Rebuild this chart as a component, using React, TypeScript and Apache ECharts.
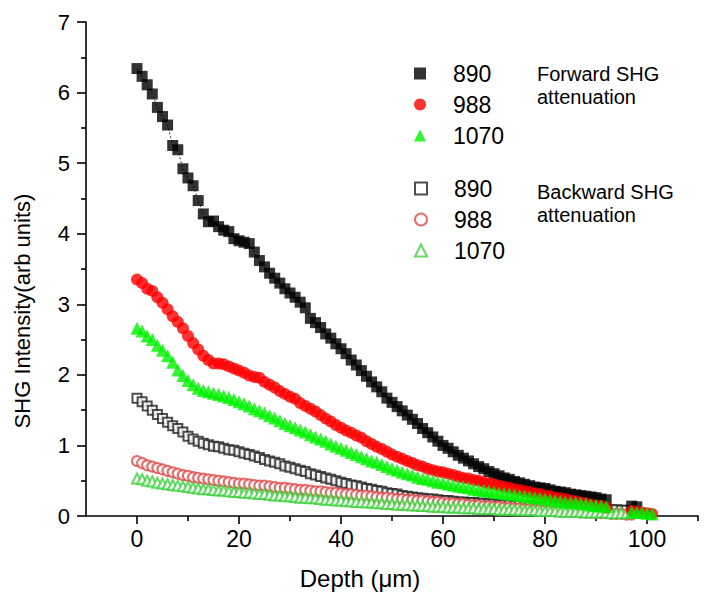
import React, { useEffect, useRef } from "react";
import * as echarts from "echarts";

// Depth axis (µm) and SHG intensity values (arb units).
// Main series are sampled every 1 µm starting at depth 0; tails are extra [depth, value] points.
const forward890 = [
  6.34, 6.23, 6.11, 5.98, 5.79, 5.66, 5.54, 5.25, 5.19, 4.92,
  4.79, 4.68, 4.47, 4.28, 4.17, 4.18, 4.1, 4.05, 4.03, 3.93,
  3.9, 3.88, 3.86, 3.74, 3.62, 3.53, 3.44, 3.37, 3.3, 3.22,
  3.16, 3.1, 3.03, 2.95, 2.8, 2.74, 2.67, 2.58, 2.52, 2.44,
  2.37, 2.3, 2.21, 2.14, 2.06, 1.98, 1.9, 1.83, 1.76, 1.67,
  1.61, 1.55, 1.49, 1.43, 1.37, 1.31, 1.24, 1.18, 1.12, 1.06,
  1.0, 0.96, 0.91, 0.86, 0.82, 0.78, 0.74, 0.7, 0.67, 0.63,
  0.6, 0.57, 0.54, 0.52, 0.49, 0.47, 0.45, 0.43, 0.41, 0.4,
  0.39, 0.37, 0.35, 0.34, 0.33, 0.31, 0.3, 0.29, 0.28, 0.27,
  0.26, 0.24, 0.23,
];
const forward890Tail = [[97, 0.14], [98, 0.13]];

const forward988 = [
  3.35, 3.3, 3.22, 3.19, 3.1, 3.02, 2.93, 2.83, 2.75, 2.66,
  2.55, 2.45, 2.36, 2.27, 2.21, 2.16, 2.16, 2.15, 2.12, 2.09,
  2.06, 2.03, 1.99, 1.97, 1.96, 1.9, 1.86, 1.82, 1.77, 1.73,
  1.69, 1.66, 1.6, 1.56, 1.52, 1.48, 1.43, 1.38, 1.34, 1.29,
  1.25, 1.21, 1.18, 1.14, 1.11, 1.06, 1.02, 0.98, 0.95, 0.91,
  0.87, 0.84, 0.81, 0.78, 0.75, 0.72, 0.7, 0.67, 0.65, 0.63,
  0.62, 0.6, 0.58, 0.56, 0.54, 0.53, 0.51, 0.5, 0.48, 0.46,
  0.45, 0.43, 0.41, 0.4, 0.38, 0.37, 0.35, 0.34, 0.32, 0.31,
  0.29, 0.28, 0.26, 0.25, 0.24, 0.22, 0.21, 0.19, 0.18, 0.16,
  0.15, 0.14, 0.12,
];
const forward988Tail = [[97, 0.07], [98, 0.06], [99, 0.05], [100, 0.04], [101, 0.03]];

const forward1070 = [
  2.66, 2.62, 2.55, 2.5, 2.42, 2.35, 2.27, 2.18, 2.07, 1.99,
  1.92, 1.86, 1.81, 1.78, 1.76, 1.74, 1.72, 1.7, 1.68, 1.65,
  1.62, 1.59, 1.56, 1.52, 1.49, 1.46, 1.42, 1.39, 1.35, 1.31,
  1.28, 1.25, 1.22, 1.19, 1.15, 1.12, 1.09, 1.06, 1.02, 0.99,
  0.96, 0.93, 0.9, 0.87, 0.84, 0.81, 0.78, 0.76, 0.73, 0.7,
  0.67, 0.65, 0.62, 0.6, 0.58, 0.55, 0.53, 0.52, 0.5, 0.48,
  0.47, 0.45, 0.44, 0.42, 0.41, 0.4, 0.38, 0.37, 0.36, 0.35,
  0.34, 0.33, 0.32, 0.31, 0.3, 0.29, 0.28, 0.27, 0.26, 0.25,
  0.24, 0.23, 0.22, 0.21, 0.2, 0.19, 0.19, 0.18, 0.17, 0.16,
  0.15, 0.14, 0.13,
];
const forward1070Tail = [[97, 0.06], [98, 0.05], [99, 0.05], [100, 0.04], [101, 0.03]];

const backward890 = [
  1.67, 1.62, 1.56, 1.5, 1.44, 1.38, 1.33, 1.28, 1.24, 1.19,
  1.13, 1.09, 1.06, 1.03, 1.01, 0.99, 0.98, 0.96, 0.94, 0.93,
  0.91, 0.89, 0.87, 0.85, 0.83, 0.8, 0.78, 0.76, 0.74, 0.71,
  0.69, 0.67, 0.65, 0.63, 0.6, 0.58, 0.56, 0.54, 0.52, 0.5,
  0.48, 0.46, 0.44, 0.43, 0.41, 0.39, 0.38, 0.36, 0.35, 0.33,
  0.32, 0.31, 0.29, 0.28, 0.27, 0.26, 0.25, 0.24, 0.24, 0.23,
  0.22, 0.22, 0.21, 0.2, 0.2, 0.19, 0.19, 0.18, 0.18, 0.17,
  0.17, 0.16, 0.16, 0.16, 0.15, 0.15, 0.14, 0.14, 0.14, 0.13,
  0.13, 0.13, 0.12, 0.12, 0.12, 0.11, 0.11, 0.11, 0.1, 0.1,
  0.1, 0.1, 0.09, 0.09, 0.09, 0.08, 0.08,
];

const backward988 = [
  0.78, 0.75, 0.72, 0.7, 0.68, 0.66, 0.64, 0.62, 0.6, 0.58,
  0.57, 0.55, 0.54, 0.53, 0.52, 0.51, 0.5, 0.49, 0.48, 0.47,
  0.46, 0.46, 0.45, 0.44, 0.43, 0.43, 0.42, 0.41, 0.4, 0.4,
  0.39, 0.38, 0.37, 0.37, 0.36, 0.35, 0.35, 0.34, 0.33, 0.33,
  0.32, 0.31, 0.31, 0.3, 0.29, 0.29, 0.28, 0.27, 0.26, 0.26,
  0.25, 0.24, 0.24, 0.23, 0.23, 0.22, 0.22, 0.21, 0.2, 0.2,
  0.19, 0.18, 0.18, 0.17, 0.17, 0.16, 0.15, 0.15, 0.14, 0.14,
  0.13, 0.13, 0.12, 0.12, 0.11, 0.11, 0.1, 0.1, 0.09, 0.09,
  0.08, 0.08, 0.07, 0.07, 0.07, 0.06, 0.06, 0.05, 0.05, 0.05,
  0.04, 0.04, 0.04, 0.03, 0.03, 0.03, 0.02, 0.02,
];

const backward1070 = [
  0.53, 0.52, 0.5, 0.49, 0.47, 0.46, 0.45, 0.44, 0.43, 0.42,
  0.41, 0.4, 0.39, 0.38, 0.38, 0.37, 0.36, 0.36, 0.35, 0.34,
  0.34, 0.33, 0.33, 0.32, 0.31, 0.31, 0.3, 0.29, 0.29, 0.28,
  0.28, 0.27, 0.26, 0.26, 0.25, 0.25, 0.24, 0.23, 0.23, 0.22,
  0.22, 0.21, 0.21, 0.2, 0.2, 0.19, 0.19, 0.18, 0.18, 0.17,
  0.17, 0.16, 0.16, 0.16, 0.15, 0.15, 0.14, 0.14, 0.13, 0.13,
  0.13, 0.12, 0.12, 0.12, 0.11, 0.11, 0.11, 0.1, 0.1, 0.1,
  0.1, 0.09, 0.09, 0.09, 0.09, 0.08, 0.08, 0.08, 0.08, 0.07,
  0.07, 0.07, 0.07, 0.06, 0.06, 0.06, 0.06, 0.06, 0.05, 0.05,
  0.05, 0.05, 0.05, 0.04, 0.04, 0.04, 0.04,
];

const xMajorTicks = [0, 20, 40, 60, 80, 100];
const xMinorTicks = [10, 30, 50, 70, 90, 110];
const yTicks = [0, 1, 2, 3, 4, 5, 6, 7];

const FONT = "'Liberation Sans', Arial, Helvetica, sans-serif";

const toPairs = (vals: number[], tail: number[][] = []) =>
  vals.map((v, i) => [i, v]).concat(tail);

export default function App() {
  const ref = useRef<HTMLDivElement>(null);

  useEffect(() => {
    if (!ref.current) return;
    const chart = echarts.init(ref.current, undefined, { renderer: "svg" });

    const legendText = {
      fontSize: 23,
      fontFamily: FONT,
      color: "#000",
      padding: [0, 0, 0, 22],
    };

    const option: any = {
      animation: false,
      backgroundColor: "#fff",
      grid: { left: 86, right: 13, top: 22, bottom: 88, containLabel: false },
      xAxis: [
        {
          type: "value",
          min: -10,
          max: 110,
          position: "bottom",
          splitLine: { show: false },
          axisLine: { show: true, onZero: false, lineStyle: { color: "#000", width: 1.6 } },
          axisTick: {
            show: true,
            customValues: xMajorTicks,
            length: 8,
            inside: false,
            lineStyle: { color: "#000", width: 1.6 },
          },
          axisLabel: {
            customValues: xMajorTicks,
            fontSize: 23,
            fontFamily: FONT,
            color: "#000",
            margin: 11,
          },
        },
        {
          type: "value",
          min: -10,
          max: 110,
          position: "bottom",
          splitLine: { show: false },
          axisLine: { show: false, onZero: false },
          axisTick: {
            show: true,
            customValues: xMinorTicks,
            length: 5,
            lineStyle: { color: "#000", width: 1.6 },
          },
          axisLabel: { show: false },
        },
      ],
      yAxis: {
        type: "value",
        min: 0,
        max: 7,
        interval: 1,
        splitLine: { show: false },
        axisLine: { show: true, onZero: false, lineStyle: { color: "#000", width: 1.6 } },
        axisTick: { show: true, length: 9, lineStyle: { color: "#000", width: 1.6 } },
        minorTick: { show: true, splitNumber: 2, length: 5, lineStyle: { color: "#000", width: 1.6 } },
        axisLabel: {
          customValues: yTicks,
          fontSize: 22,
          fontFamily: FONT,
          color: "#000",
          margin: 16,
        },
      },
      legend: [
        {
          orient: "vertical",
          left: 409,
          top: 57,
          itemWidth: 12,
          itemHeight: 12,
          itemGap: 8,
          selectedMode: false,
          data: ["F890", "F988", "F1070"],
          formatter: (n: string) => n.slice(1),
          textStyle: legendText,
        },
        {
          orient: "vertical",
          left: 409,
          top: 172,
          itemWidth: 12,
          itemHeight: 12,
          itemGap: 8,
          selectedMode: false,
          data: ["B890", "B988", "B1070"],
          formatter: (n: string) => n.slice(1),
          textStyle: legendText,
        },
      ],
      graphic: [
        {
          type: "text",
          x: 22,
          y: 311,
          rotation: Math.PI / 2,
          style: {
            text: "SHG Intensity(arb units)",
            fontSize: 22,
            fontFamily: FONT,
            fill: "#000",
            align: "center",
            verticalAlign: "middle",
          },
        },
        {
          type: "text",
          x: 360,
          y: 578,
          style: {
            text: "Depth (\u03bcm)",
            fontSize: 24,
            fontFamily: FONT,
            fill: "#000",
            align: "center",
            verticalAlign: "middle",
          },
        },
        {
          type: "text",
          x: 537,
          y: 74,
          style: { text: "Forward SHG", fontSize: 20, fontFamily: FONT, fill: "#000", verticalAlign: "middle" },
        },
        {
          type: "text",
          x: 537,
          y: 97,
          style: { text: "attenuation", fontSize: 20, fontFamily: FONT, fill: "#000", verticalAlign: "middle" },
        },
        {
          type: "text",
          x: 537,
          y: 192,
          style: { text: "Backward SHG", fontSize: 20, fontFamily: FONT, fill: "#000", verticalAlign: "middle" },
        },
        {
          type: "text",
          x: 537,
          y: 215,
          style: { text: "attenuation", fontSize: 20, fontFamily: FONT, fill: "#000", verticalAlign: "middle" },
        },
      ],
      series: [
        {
          name: "F890line",
          type: "line",
          data: toPairs(forward890),
          showSymbol: false,
          symbol: "none",
          lineStyle: { color: "#000", width: 0.8, type: [2, 2] },
          silent: true,
          z: 1,
        },
        {
          name: "B890",
          type: "scatter",
          data: toPairs(backward890),
          symbol: "emptyRect",
          symbolSize: 9,
          itemStyle: { color: "#222", borderColor: "#222", borderWidth: 1 },
          z: 2,
        },
        {
          name: "B988",
          type: "scatter",
          data: toPairs(backward988),
          symbol: "emptyCircle",
          symbolSize: 10,
          itemStyle: { color: "#e04848", borderColor: "#e04848", borderWidth: 1 },
          z: 2,
        },
        {
          name: "B1070",
          type: "scatter",
          data: toPairs(backward1070),
          symbol: "emptyTriangle",
          symbolSize: 10,
          itemStyle: { color: "#3ccf3c", borderColor: "#3ccf3c", borderWidth: 1 },
          z: 2,
        },
        {
          name: "F890",
          type: "scatter",
          data: toPairs(forward890, forward890Tail),
          symbol: "rect",
          symbolSize: 11,
          itemStyle: { color: "#000" },
          z: 3,
        },
        {
          name: "F988",
          type: "scatter",
          data: toPairs(forward988, forward988Tail),
          symbol: "circle",
          symbolSize: 12,
          itemStyle: { color: "#ff0000" },
          z: 3,
        },
        {
          name: "F1070",
          type: "scatter",
          data: toPairs(forward1070, forward1070Tail),
          symbol: "triangle",
          symbolSize: 13,
          itemStyle: { color: "#00f000" },
          z: 3,
        },
      ],
    };

    chart.setOption(option);
    return () => chart.dispose();
  }, []);

  return (
    <div
      ref={ref}
      style={{ position: "fixed", left: 0, top: 0, width: 711, height: 604, background: "#fff" }}
    />
  );
}
